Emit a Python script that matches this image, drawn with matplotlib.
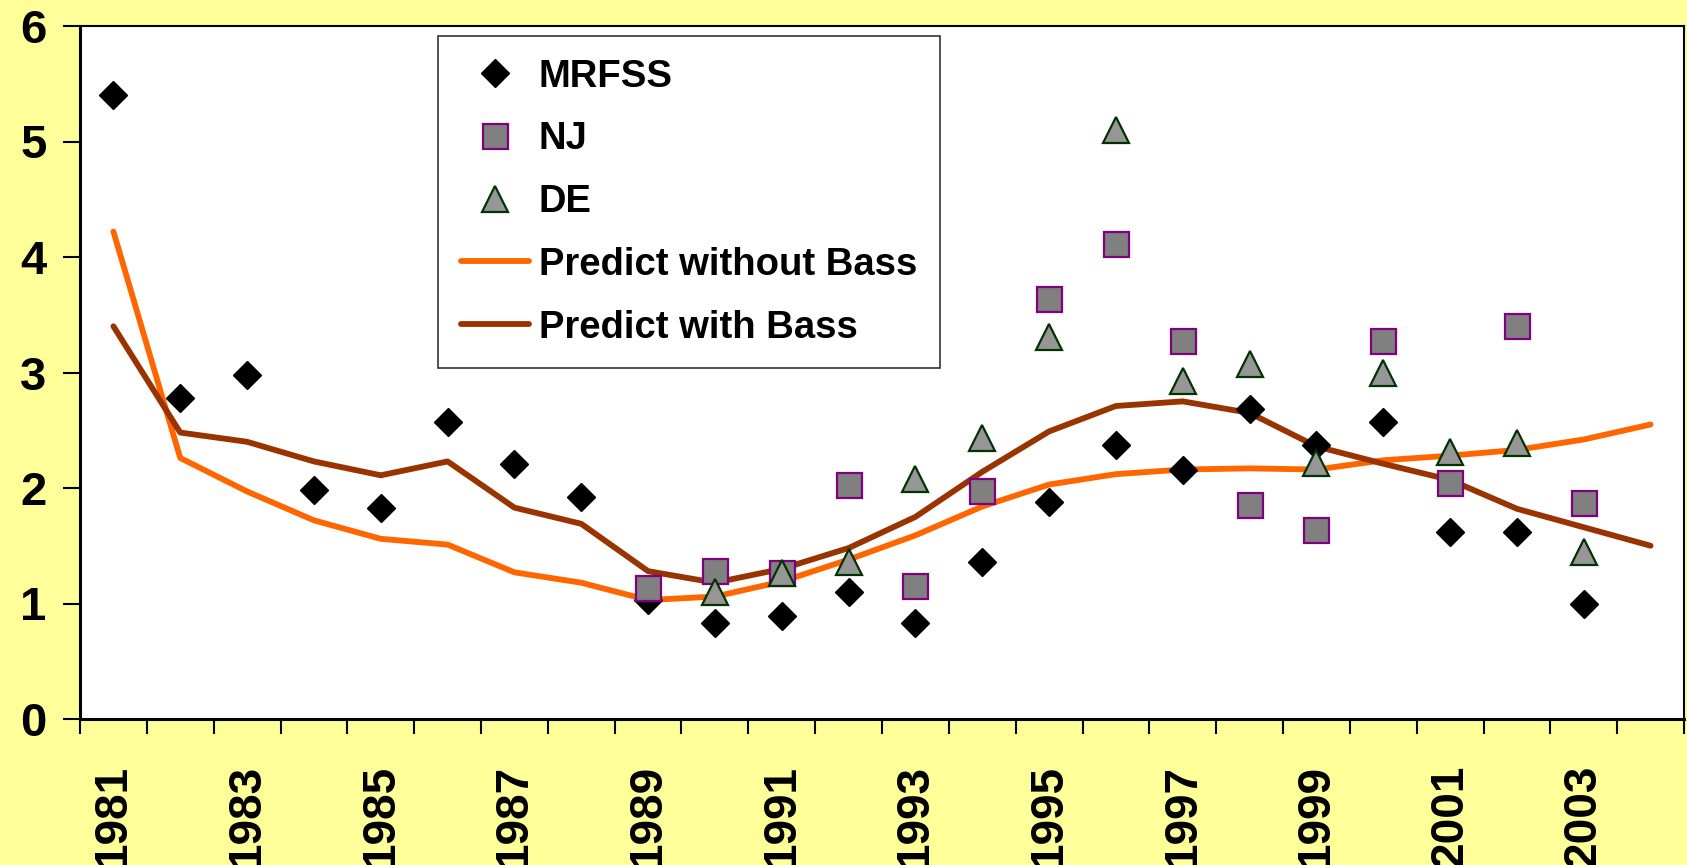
import numpy as np
import matplotlib
matplotlib.use("Agg")
import matplotlib.pyplot as plt

plt.rcParams['font.family'] = ['Liberation Sans', 'DejaVu Sans']
plt.rcParams['font.weight'] = 'bold'

#-------------------------------------------------------------
#Data
#-------------------------------------------------------------
years = list(range(1981, 2005))
year_labels = [str(y) for y in years[::2]]

mrfss = [5.40, 2.78, 2.98, 1.98, 1.83, 2.57, 2.21, 1.92, 1.03, 0.83, 0.89, 1.10,
         0.83, 1.36, 1.88, 2.37, 2.16, 2.68, 2.37, 2.57, 1.62, 1.62, 1.00, np.nan]
nj = [np.nan]*8 + [1.13, 1.28, 1.26, 2.03, 1.15, 1.97, 3.64, 4.11, 3.27, 1.85,
                   1.64, 3.27, 2.04, 3.40, 1.87, np.nan]
de = [np.nan]*9 + [1.10, 1.26, 1.36, 2.08, 2.43, 3.31, 5.10, 2.93, 3.07,
                   2.22, 3.00, 2.31, 2.39, 1.45, np.nan]
pred_no_bass = [4.22, 2.26, 1.97, 1.72, 1.56, 1.51, 1.27, 1.18, 1.03, 1.06, 1.19, 1.38,
                1.59, 1.84, 2.03, 2.12, 2.16, 2.17, 2.16, 2.24, 2.28, 2.33, 2.42, 2.55]
pred_bass = [3.40, 2.48, 2.40, 2.23, 2.11, 2.23, 1.83, 1.69, 1.28, 1.18, 1.30, 1.48,
             1.75, 2.14, 2.49, 2.71, 2.75, 2.65, 2.36, 2.21, 2.07, 1.82, 1.66, 1.50]

x = np.arange(len(years))

#-------------------------------------------------------------
#Plot
#-------------------------------------------------------------
fig = plt.figure(figsize=(16.87, 8.65), dpi=100, facecolor='#FFFF99')
ax = fig.add_axes([80/1687, 1-719/865, 1604/1687, 693/865])
ax.set_facecolor('white')

ax.plot(x, mrfss, 'D', ms=14.5, color='black', mec='black', label='MRFSS', zorder=3)
ax.plot(x, nj, 's', ms=18, mfc='#808080', mec='#800080', mew=1.6, label='NJ', zorder=4)
ax.plot(x, de, '^', ms=19, mfc='#969696', mec='#003300', mew=1.6, label='DE', zorder=5)
ax.plot(x, pred_no_bass, color='#FF6600', lw=4.2, solid_capstyle='round',
        solid_joinstyle='round', label='Predict without Bass', zorder=2)
ax.plot(x, pred_bass, color='#993300', lw=4.2, solid_capstyle='round',
        solid_joinstyle='round', label='Predict with Bass', zorder=2)

ax.set_xlim(-0.5, len(years)-0.5)
ax.set_ylim(0, 6)
ax.set_yticks(range(7))
ax.tick_params(axis='y', labelsize=34, length=12, width=1.5, pad=12)

# boundary ticks, labels at every second year centre
ax.set_xticks(np.arange(-0.5, len(years), 1))
ax.set_xticklabels([])
ax.set_xticks(x[::2], minor=True)
ax.set_xticklabels(year_labels, minor=True, rotation=90, fontsize=33)
ax.tick_params(axis='x', which='major', length=11, width=1.5)
ax.tick_params(axis='x', which='minor', length=0, pad=33)

for s in ax.spines.values():
    s.set_linewidth(1.5)
    s.set_color('black')
ax.spines['left'].set_linewidth(2.2)
ax.spines['bottom'].set_linewidth(2.2)

leg = ax.legend(loc='upper left', bbox_to_anchor=(0.223, 0.986), borderaxespad=0,
                fontsize=27.5, frameon=True, fancybox=False, edgecolor='black',
                handlelength=1.8, handletextpad=0.25, labelspacing=0.7,
                borderpad=0.6, markerscale=1.0)
leg.get_frame().set_linewidth(1.2)

plt.savefig('out.png', dpi=100, facecolor=fig.get_facecolor())
